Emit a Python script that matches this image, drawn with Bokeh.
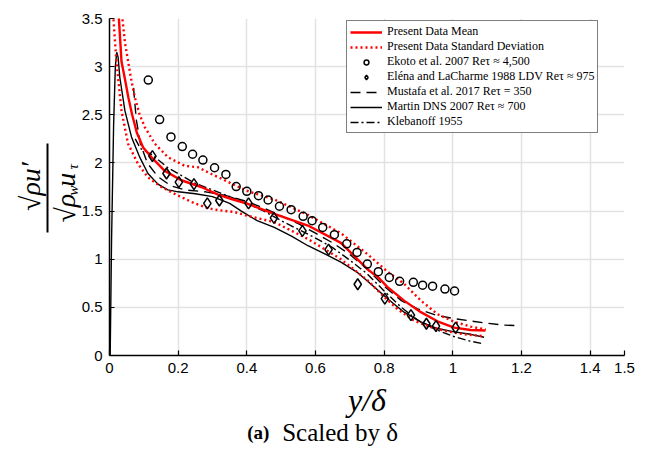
import math
from bokeh.plotting import figure
from bokeh.models import Range1d, FixedTicker, Label, Legend, LegendItem, LinearAxis
from bokeh.embed import file_html
from bokeh.resources import INLINE

# ---------------- data ----------------
mean_x = [0.022, 0.027, 0.035, 0.044, 0.055, 0.066, 0.080, 0.098, 0.122, 0.160, 0.209, 0.267,
          0.316, 0.360, 0.403, 0.480, 0.578, 0.674, 0.752, 0.786, 0.810, 0.858, 0.907, 0.955,
          1.004, 1.052, 1.095]
mean_y = [3.75, 3.52, 3.05, 2.89, 2.68, 2.50, 2.31, 2.16, 2.06, 1.92, 1.82, 1.75,
          1.67, 1.62, 1.575, 1.47, 1.35, 1.17, 0.895, 0.80, 0.71, 0.57, 0.45, 0.355,
          0.29, 0.265, 0.26]

std_up_x = [0.031, 0.037, 0.045, 0.054, 0.064, 0.074, 0.088, 0.103, 0.132, 0.170, 0.219, 0.258,
            0.297, 0.330, 0.364, 0.408, 0.480, 0.578, 0.674, 0.752, 0.810, 0.858, 0.907, 0.955,
            1.004, 1.052, 1.096]
std_up_y = [3.75, 3.52, 3.25, 3.06, 2.85, 2.68, 2.50, 2.37, 2.20, 2.06, 1.97, 1.955,
            1.885, 1.83, 1.77, 1.70, 1.62, 1.46, 1.27, 1.05, 0.87, 0.745, 0.57, 0.43,
            0.35, 0.30, 0.27]

std_lo_x = [0.008, 0.011, 0.020, 0.035, 0.054, 0.083, 0.112, 0.151, 0.200, 0.248, 0.287, 0.316,
            0.364, 0.403, 0.480, 0.578, 0.674, 0.752, 0.791, 0.839, 0.888, 0.936, 0.985,
            1.033, 1.091]
std_lo_y = [3.75, 3.52, 3.06, 2.54, 2.20, 1.99, 1.85, 1.75, 1.66, 1.58, 1.53, 1.51,
            1.49, 1.45, 1.385, 1.21, 1.00, 0.78, 0.64, 0.48, 0.36, 0.295, 0.25,
            0.22, 0.20]

ekoto_x = [0.113, 0.146, 0.179, 0.212, 0.242, 0.272, 0.306, 0.339, 0.369, 0.400, 0.434, 0.462,
           0.495, 0.529, 0.564, 0.590, 0.621, 0.655, 0.691, 0.721, 0.751, 0.783, 0.815, 0.845,
           0.885, 0.912, 0.941, 0.977, 1.005]
ekoto_y = [2.86, 2.45, 2.27, 2.17, 2.09, 2.03, 1.95, 1.88, 1.755, 1.705, 1.66, 1.615,
           1.55, 1.515, 1.445, 1.40, 1.33, 1.255, 1.16, 1.07, 0.95, 0.87, 0.81, 0.77,
           0.76, 0.73, 0.72, 0.69, 0.67]

elena_x = [0.125, 0.166, 0.202, 0.246, 0.285, 0.320, 0.405, 0.479, 0.562, 0.638, 0.723,
           0.802, 0.878, 0.923, 0.951, 1.008]
elena_y = [2.07, 1.89, 1.80, 1.78, 1.58, 1.61, 1.58, 1.43, 1.295, 1.10, 0.74,
           0.59, 0.42, 0.33, 0.305, 0.29]

mustafa_x = [0.070, 0.078, 0.090, 0.110, 0.140, 0.180, 0.220, 0.280, 0.340, 0.400, 0.450,
             0.500, 0.550, 0.600, 0.650, 0.700, 0.750, 0.800, 0.850, 0.900, 0.950, 1.000,
             1.050, 1.100, 1.150, 1.190]
mustafa_y = [2.78, 2.45, 2.20, 2.00, 1.86, 1.76, 1.72, 1.70, 1.66, 1.60, 1.53,
             1.45, 1.37, 1.27, 1.17, 1.05, 0.90, 0.72, 0.57, 0.48, 0.42, 0.385,
             0.36, 0.335, 0.315, 0.31]

martin_x = [0.002, 0.006, 0.012, 0.017, 0.021, 0.025, 0.030, 0.045, 0.064, 0.088, 0.112, 0.141,
            0.170, 0.200, 0.250, 0.300, 0.350, 0.384, 0.430, 0.480, 0.530, 0.578, 0.630,
            0.674, 0.723, 0.762, 0.810, 0.858, 0.907, 0.955, 1.004, 1.052, 1.091]
martin_y = [0.00, 1.20, 2.40, 3.00, 3.15, 3.10, 2.89, 2.54, 2.27, 2.06, 1.89, 1.78,
            1.72, 1.70, 1.68, 1.65, 1.58, 1.50, 1.40, 1.33, 1.24, 1.14, 1.05,
            0.97, 0.86, 0.74, 0.59, 0.45, 0.35, 0.28, 0.245, 0.22, 0.19]

kleb_x = [0.075, 0.090, 0.122, 0.170, 0.248, 0.300, 0.350, 0.400, 0.450, 0.500, 0.550,
          0.600, 0.650, 0.700, 0.750, 0.800, 0.850, 0.900, 0.950, 1.000, 1.050, 1.090]
kleb_y = [2.25, 2.15, 2.09, 1.95, 1.79, 1.72, 1.65, 1.58, 1.50, 1.40, 1.31,
          1.22, 1.12, 0.99, 0.85, 0.67, 0.50, 0.36, 0.27, 0.20, 0.15, 0.12]

x_ticks = [0, 0.2, 0.4, 0.6, 0.8, 1.0, 1.2, 1.4, 1.5]
x_tick_labels = ["0", "0.2", "0.4", "0.6", "0.8", "1", "1.2", "1.4", "1.5"]
y_ticks = [0, 0.5, 1.0, 1.5, 2.0, 2.5, 3.0, 3.5]
y_tick_labels = ["0", "0.5", "1", "1.5", "2", "2.5", "3", "3.5"]

legend_labels = ["Present Data Mean",
                 "Present Data Standard Deviation",
                 "Ekoto et al. 2007 Reτ ≈ 4,500",
                 "Eléna and LaCharme 1988 LDV Reτ ≈ 975",
                 "Mustafa et al. 2017 Reτ = 350",
                 "Martin DNS 2007 Reτ ≈ 700",
                 "Klebanoff 1955"]

# ---------------- figure ----------------
SERIF = "Liberation Serif"
SANS = "Liberation Sans"
X0, X1, Y0, Y1 = 0.0, 1.5, 0.0, 3.5
W, H = 646, 453
BL, BR, BT, BB = 108, 22, 18, 98

p = figure(width=W, height=H, x_range=Range1d(X0, X1), y_range=Range1d(Y0, Y1),
           output_backend="svg", toolbar_location=None,
           min_border_left=BL, min_border_right=BR, min_border_top=BT, min_border_bottom=BB)
p.outline_line_color = None
p.background_fill_color = "white"
p.border_fill_color = "white"

# pixel position (from the top-left of the picture) -> data position, for text placement
def px2x(px):
    return X0 + (px - BL) * (X1 - X0) / (W - BL - BR)

def py2y(py):
    return Y0 + (H - BB - py) * (Y1 - Y0) / (H - BT - BB)

for ax in (p.xaxis[0], p.yaxis[0]):
    ax.axis_line_color = "black"
    ax.axis_line_width = 1.5
    ax.major_tick_line_color = "black"
    ax.major_tick_line_width = 1.2
    ax.major_tick_in = 5
    ax.major_tick_out = 0
    ax.minor_tick_line_color = None
    ax.major_label_text_font = SANS
    ax.major_label_text_font_size = "15px"
    ax.major_label_text_color = "black"

p.xaxis.ticker = FixedTicker(ticks=x_ticks)
p.xaxis.major_label_overrides = dict(zip(x_ticks, x_tick_labels))
p.yaxis.ticker = FixedTicker(ticks=y_ticks)
p.yaxis.major_label_overrides = dict(zip(y_ticks, y_tick_labels))
p.xaxis.major_label_standoff = 7
p.yaxis.major_label_standoff = 7

p.xaxis.axis_label = "y/δ"
p.xaxis.axis_label_text_font = SERIF
p.xaxis.axis_label_text_font_style = "italic"
p.xaxis.axis_label_text_font_size = "32px"
p.xaxis.axis_label_text_color = "black"
p.xaxis.axis_label_standoff = 6

p.xgrid.ticker = FixedTicker(ticks=x_ticks)
p.ygrid.ticker = FixedTicker(ticks=y_ticks)
for g in (p.xgrid[0], p.ygrid[0]):
    g.grid_line_color = "#e2e2e2"
    g.grid_line_width = 1.5

# ---------------- glyphs ----------------
r_martin = p.line(martin_x, martin_y, line_color="black", line_width=1.4)
r_mustafa = p.line(mustafa_x, mustafa_y, line_color="black", line_width=1.4, line_dash="10 6")
r_kleb = p.line(kleb_x, kleb_y, line_color="black", line_width=1.4, line_dash="8 3 2 3")
r_up = p.line(std_up_x, std_up_y, line_color="red", line_width=2.4, line_dash="2 3")
r_lo = p.line(std_lo_x, std_lo_y, line_color="red", line_width=2.4, line_dash="2 3")
r_mean = p.line(mean_x, mean_y, line_color="red", line_width=2.4)
r_ekoto = p.scatter(ekoto_x, ekoto_y, marker="circle", size=8, fill_color=None,
                    line_color="black", line_width=1.5)
r_elena = p.scatter(elena_x, elena_y, marker="diamond", size=11, fill_color=None,
                    line_color="black", line_width=1.5)

legend = Legend(items=[
    LegendItem(label=legend_labels[0], renderers=[r_mean]),
    LegendItem(label=legend_labels[1], renderers=[r_up]),
    LegendItem(label=legend_labels[2], renderers=[r_ekoto]),
    LegendItem(label=legend_labels[3], renderers=[r_elena]),
    LegendItem(label=legend_labels[4], renderers=[r_mustafa]),
    LegendItem(label=legend_labels[5], renderers=[r_martin]),
    LegendItem(label=legend_labels[6], renderers=[r_kleb]),
], location=(237, 222))
legend.label_text_font = SERIF
legend.label_text_font_size = "12px"
legend.label_text_color = "black"
legend.label_height = 12
legend.glyph_height = 12
legend.glyph_width = 32
legend.label_standoff = 5
legend.spacing = 0
legend.padding = 3
legend.margin = 0
legend.border_line_color = "black"
legend.border_line_width = 1.3
legend.background_fill_color = "white"
legend.background_fill_alpha = 1.0
p.add_layout(legend)

# ---------------- texts outside the frame ----------------
# (put into side panels so that they are not clipped; their place comes from x, y)
def lab(text, px, py, size, side, style="italic", align="left", font=SERIF,
        angle=math.pi / 2, baseline="middle"):
    p.add_layout(Label(x=px2x(px), y=py2y(py), text=text, angle=angle,
                       text_font=font, text_font_size=size, text_font_style=style,
                       text_align=align, text_baseline=baseline, text_color="black"), side)

# y axis label: a fraction  sqrt(rho) u' / (sqrt(rho_w) u_tau)
lab("√ρ  u", 64, 222, "28px", "left")                    # denominator
bar = LinearAxis(bounds=(py2y(232), py2y(143)), ticker=FixedTicker(ticks=[]),
                 axis_line_color="black", axis_line_width=2,
                 major_tick_line_color=None, minor_tick_line_color=None,
                 major_label_text_font_size="0px")
p.add_layout(bar, "left")                                 # fraction bar
lab("√ρu′", 29, 186, "28px", "left", align="center")     # numerator
lab("τ", 71, 169, "15px", "left")                         # subscript tau
lab("w", 71, 195, "15px", "above")                        # subscript w

# caption
lab("(a)", 246, 432, "19px", "right", style="bold", angle=0)
lab("Scaled by δ", 281, 432, "25px", "below", style="normal", angle=0)

open("out.html", "w").write(file_html(p, INLINE))
